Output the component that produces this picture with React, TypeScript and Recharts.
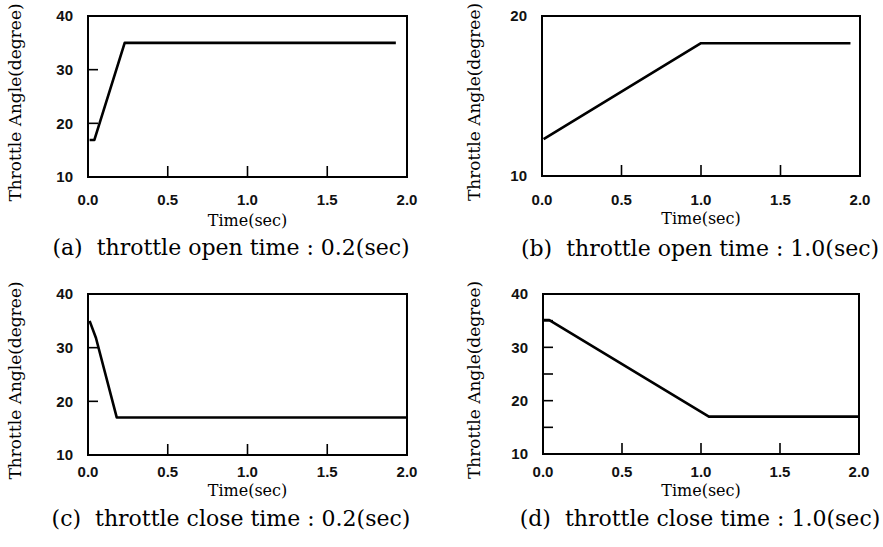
import { LineChart, Line, XAxis, YAxis, ReferenceArea } from 'recharts';

const timeTicks = [0, 0.5, 1.0, 1.5, 2.0];

// (a) throttle open, 0.2 s
const openFastTime = [0.01, 0.04, 0.23, 1.93];
const openFastAngle = [16.9, 16.9, 35.0, 35.0];

// (b) throttle open, 1.0 s
const openSlowTime = [0.01, 1.0, 1.94];
const openSlowAngle = [12.3, 18.3, 18.3];

// (c) throttle close, 0.2 s
const closeFastTime = [0.01, 0.05, 0.18, 2.0];
const closeFastAngle = [35.0, 31.8, 17.0, 17.0];

// (d) throttle close, 1.0 s
const closeSlowTime = [0.0, 0.04, 1.05, 2.0];
const closeSlowAngle = [35.1, 35.1, 17.0, 17.0];

const angleTicks = [10, 20, 30, 40];
const angleTicksFine = [10, 15, 20, 25, 30, 35, 40];
const angleTicksNarrow = [10, 20];

const captionA = '(a)\u00a0 throttle open time : 0.2(sec)';
const captionB = '(b)\u00a0 throttle open time : 1.0(sec)';
const captionC = '(c)\u00a0 throttle close time : 0.2(sec)';
const captionD = '(d)\u00a0 throttle close time : 1.0(sec)';

const SERIF = '"DejaVu Serif", "Liberation Serif", serif';
const SANS = '"Liberation Sans", Arial, sans-serif';
const Y_AXIS_W = 40;
const X_AXIS_H = 60;

const YLabel = ({ lx, ly }: any) => (
  <text
    x={lx}
    y={ly}
    transform={`rotate(-90, ${lx}, ${ly})`}
    textAnchor="middle"
    dominantBaseline="central"
    fontFamily={SERIF}
    fontSize={17}
    fill="#000"
  >
    Throttle Angle(degree)
  </text>
);

const XLabels = ({ timeX, timeY, capX, capY, caption }: any) => (
  <g>
    <text x={timeX} y={timeY} textAnchor="middle" dominantBaseline="central" fontFamily={SERIF} fontSize={16} fill="#000">
      Time(sec)
    </text>
    <text x={capX} y={capY} textAnchor="middle" dominantBaseline="central" fontFamily={SERIF} fontSize={22} fill="#000">
      {caption}
    </text>
  </g>
);

function Panel({ pos, size, plot, time, angle, yDomain, yTicks, yLabelX, labelDy, caption }: any) {
  const rows = time.map((t: number, i: number) => ({ time: t, angle: angle[i] }));
  const [w, h] = size;
  const margin = {
    top: plot.t,
    right: w - plot.r,
    left: plot.l - Y_AXIS_W,
    bottom: h - plot.b - X_AXIS_H,
  };
  const plotMidX = (plot.l + plot.r) / 2;
  const tickStyle = { fontSize: 15, fill: '#111', fontFamily: SANS, fontWeight: 'bold' };
  return (
    <div style={{ position: 'absolute', left: pos[0], top: pos[1] }}>
      <LineChart width={w} height={h} margin={margin}>
        <XAxis
          dataKey="time"
          type="number"
          domain={[0, 2]}
          ticks={timeTicks}
          allowDataOverflow
          tickFormatter={(v: number) => v.toFixed(1)}
          axisLine={false}
          tickSize={-11}
          tickMargin={labelDy.tick - 6 + 11}
          tickLine={{ stroke: '#000', strokeWidth: 1.6 }}
          tick={tickStyle}
          height={X_AXIS_H}
          interval={0}
          label={
            <XLabels
              timeX={plotMidX}
              timeY={plot.b + labelDy.time}
              capX={labelDy.capX}
              capY={plot.b + labelDy.cap}
              caption={caption}
            />
          }
        />
        <YAxis
          type="number"
          domain={yDomain}
          ticks={yTicks}
          allowDataOverflow
          width={Y_AXIS_W}
          axisLine={false}
          tickSize={-10}
          tickMargin={25}
          interval={0}
          tickFormatter={(v: number) => (v % 10 === 0 ? String(v) : '')}
          tickLine={{ stroke: '#000', strokeWidth: 1.6 }}
          tick={tickStyle}
          label={<YLabel lx={yLabelX} ly={(plot.t + plot.b) / 2 + 6} />}
        />
        <ReferenceArea
          x1={0}
          x2={2}
          y1={yDomain[0]}
          y2={yDomain[1]}
          fill="none"
          stroke="#000"
          strokeWidth={2}
          ifOverflow="visible"
        />
        <Line
          data={rows}
          dataKey="angle"
          type="linear"
          dot={false}
          stroke="#000"
          strokeWidth={2.6}
          strokeLinejoin="round"
          isAnimationActive={false}
        />
      </LineChart>
    </div>
  );
}

export default function App() {
  return (
    <div style={{ position: 'absolute', left: 0, top: 0, width: 883, height: 547, background: '#fff' }}>
      <Panel
        pos={[0, 0]}
        size={[441, 270]}
        plot={{ l: 88, r: 407, t: 16, b: 177 }}
        time={openFastTime}
        angle={openFastAngle}
        yDomain={[10, 40]}
        yTicks={angleTicks}
        yLabelX={15}
        labelDy={{ tick: 23, time: 43, cap: 70, capX: 231 }}
        caption={captionA}
      />
      <Panel
        pos={[441, 0]}
        size={[442, 270]}
        plot={{ l: 101, r: 419, t: 16, b: 176 }}
        time={openSlowTime}
        angle={openSlowAngle}
        yDomain={[10, 20]}
        yTicks={angleTicksNarrow}
        yLabelX={33}
        labelDy={{ tick: 24, time: 42, cap: 72, capX: 259 }}
        caption={captionB}
      />
      <Panel
        pos={[0, 270]}
        size={[441, 277]}
        plot={{ l: 88, r: 407, t: 24, b: 185 }}
        time={closeFastTime}
        angle={closeFastAngle}
        yDomain={[10, 40]}
        yTicks={angleTicks}
        yLabelX={15}
        labelDy={{ tick: 17, time: 35, cap: 63, capX: 231 }}
        caption={captionC}
      />
      <Panel
        pos={[441, 270]}
        size={[442, 277]}
        plot={{ l: 102, r: 418, t: 24, b: 184 }}
        time={closeSlowTime}
        angle={closeSlowAngle}
        yDomain={[10, 40]}
        yTicks={angleTicksFine}
        yLabelX={33}
        labelDy={{ tick: 18, time: 36, cap: 64, capX: 259 }}
        caption={captionD}
      />
    </div>
  );
}
